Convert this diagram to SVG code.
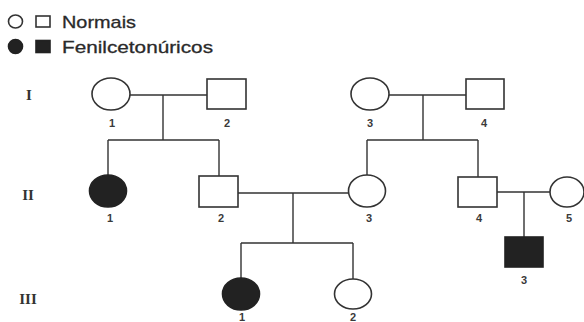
<svg xmlns="http://www.w3.org/2000/svg" width="584" height="322" viewBox="0 0 584 322">
  <style>
    .ln { stroke: #333; stroke-width: 1.4; fill: none; }
    .open { fill: #fff; stroke: #333; stroke-width: 1.6; }
    .aff { fill: #222; stroke: #222; stroke-width: 1.6; }
    .num { font-family: "Liberation Sans", Arial, sans-serif; font-size: 11px; font-weight: bold; fill: #3a3a3a; text-anchor: middle; }
    .gen { font-family: "Liberation Serif", "Times New Roman", serif; font-size: 15px; font-weight: bold; fill: #333; text-anchor: middle; }
    .leg { font-family: "Liberation Sans", Arial, sans-serif; font-size: 17px; fill: #2a2a2a; stroke: #2a2a2a; stroke-width: 0.3; }
  </style>
  <rect width="584" height="322" fill="#fff"/>

  <!-- legend -->
  <g id="legend">
    <ellipse class="open" cx="15.5" cy="21.5" rx="7" ry="6.5"/>
    <rect class="open" x="36" y="16" width="14" height="11"/>
    <text class="leg" x="62" y="27.5" textLength="74" lengthAdjust="spacingAndGlyphs">Normais</text>
    <ellipse class="aff" cx="15.5" cy="46.5" rx="7" ry="7"/>
    <rect class="aff" x="36" y="40.5" width="14" height="12"/>
    <text class="leg" x="62" y="52.5" textLength="151" lengthAdjust="spacingAndGlyphs">Fenilcetonúricos</text>
  </g>

  <!-- generation labels -->
  <g id="generations">
    <text class="gen" x="29" y="100">I</text>
    <text class="gen" x="28" y="200">II</text>
    <text class="gen" x="28" y="304">III</text>
  </g>

  <!-- connectors: marriages, descents, sibships -->
  <g id="connectors">
    <path class="ln" d="M130 95 H207 M163 95 V140 M108 140 H219 M108 140 V175 M219 140 V176"/>
    <path class="ln" d="M389 95 H466 M423 95 V140 M367 140 H478 M367 140 V175 M478 140 V177"/>
    <path class="ln" d="M238 193 H349 M293 193 V243 M241 243 H353 M241 243 V278 M353 243 V279"/>
    <path class="ln" d="M497 192 H550 M524 192 V237"/>
  </g>

  <!-- generation I -->
  <g id="I-1"><ellipse class="open" cx="111" cy="94" rx="19" ry="16"/><text class="num" x="112" y="127">1</text></g>
  <g id="I-2"><rect class="open" x="207" y="79" width="39" height="30"/><text class="num" x="227" y="127">2</text></g>
  <g id="I-3"><ellipse class="open" cx="370" cy="94" rx="19" ry="16"/><text class="num" x="370" y="127">3</text></g>
  <g id="I-4"><rect class="open" x="466" y="79" width="38" height="30"/><text class="num" x="484" y="127">4</text></g>

  <!-- generation II -->
  <g id="II-1"><ellipse class="aff" cx="108" cy="191" rx="18.5" ry="16"/><text class="num" x="110" y="222">1</text></g>
  <g id="II-2"><rect class="open" x="199" y="176" width="39" height="31"/><text class="num" x="221" y="222">2</text></g>
  <g id="II-3"><ellipse class="open" cx="367" cy="191" rx="18.5" ry="16"/><text class="num" x="369" y="222">3</text></g>
  <g id="II-4"><rect class="open" x="458" y="177" width="39" height="30"/><text class="num" x="479" y="222">4</text></g>
  <g id="II-5"><ellipse class="open" cx="567" cy="192" rx="17" ry="15"/><text class="num" x="569" y="222">5</text></g>

  <!-- generation III -->
  <g id="III-1"><ellipse class="aff" cx="241" cy="294" rx="18.5" ry="16"/><text class="num" x="242" y="321">1</text></g>
  <g id="III-2"><ellipse class="open" cx="353" cy="294" rx="18.5" ry="15"/><text class="num" x="353" y="321">2</text></g>
  <g id="III-3"><rect class="aff" x="505" y="237" width="38" height="30"/><text class="num" x="524" y="284">3</text></g>
</svg>
